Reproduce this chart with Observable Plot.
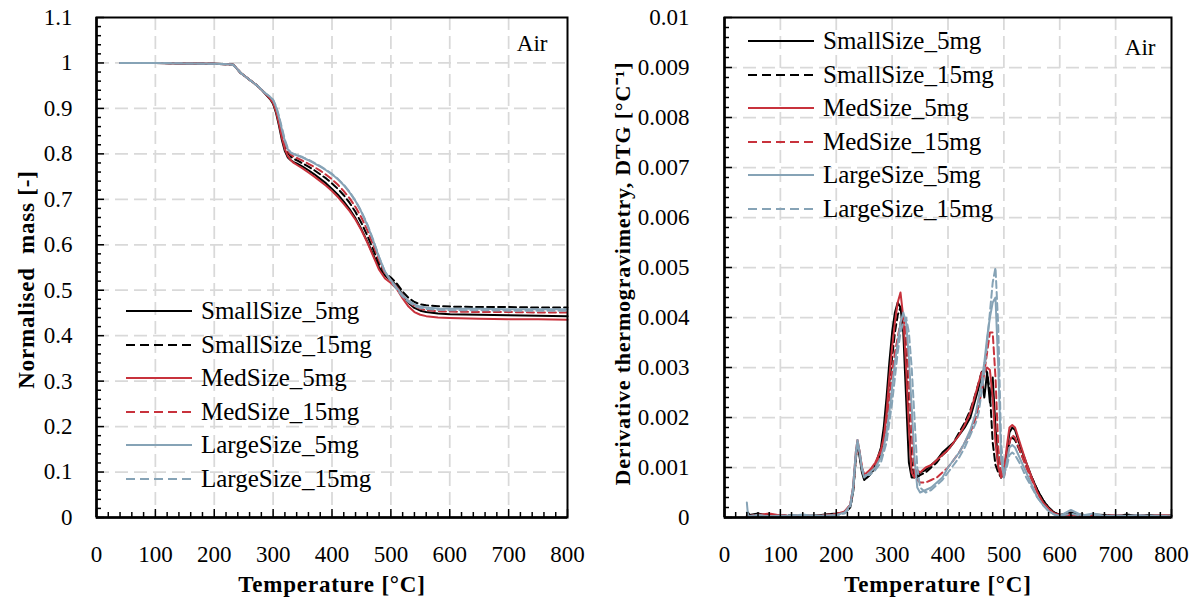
<!DOCTYPE html>
<html><head><meta charset="utf-8">
<script src="https://cdn.jsdelivr.net/npm/d3@7"></script>
<script src="https://cdn.jsdelivr.net/npm/@observablehq/plot@0.6"></script>
<style>
body{margin:0;background:#fff;}
#wrap{position:relative;width:1199px;height:601px;display:flex;background:#fff;}
.legend{position:absolute;font-family:"Liberation Serif",serif;font-size:25px;color:#000;}
.legend .row{display:flex;align-items:center;height:33.6px;white-space:nowrap;}
.legend svg{margin-right:9px;flex:none;}
svg g[font-weight="bold"] text{letter-spacing:0.8px;}
</style></head><body><div id="wrap"></div>
<script>
// ---------- series metadata ----------
const seriesNames = ["SmallSize_5mg","SmallSize_15mg","MedSize_5mg","MedSize_15mg","LargeSize_5mg","LargeSize_15mg"];
const seriesColors = ["#000000","#000000","#c8323c","#c8323c","#86a3b6","#86a3b6"];
const seriesDashed = [false,true,false,true,false,true];

// ---------- axis ticks ----------
const tempTicks = [0,100,200,300,400,500,600,700,800];
const tempTickLabels = ["0","100","200","300","400","500","600","700","800"];
const massTicks = [0,0.1,0.2,0.3,0.4,0.5,0.6,0.7,0.8,0.9,1,1.1];
const massTickLabels = ["0","0.1","0.2","0.3","0.4","0.5","0.6","0.7","0.8","0.9","1","1.1"];
const dtgTicks = [0,0.001,0.002,0.003,0.004,0.005,0.006,0.007,0.008,0.009,0.01];
const dtgTickLabels = ["0","0.001","0.002","0.003","0.004","0.005","0.006","0.007","0.008","0.009","0.01"];

// ---------- normalised mass (left) ----------
const massT = [40,100,150,200,225,232,238,245,255,265,275,285,295,300,305,310,315,320,325,330,335,340,350,360,370,380,390,400,410,420,430,440,450,460,470,480,490,500,510,520,530,540,550,560,580,600,650,700,750,800];
const massSmall5 = [1,1,0.999,0.998,0.997,0.996,0.988,0.978,0.968,0.958,0.948,0.935,0.92,0.91,0.89,0.862,0.83,0.806,0.792,0.786,0.782,0.779,0.772,0.764,0.755,0.745,0.735,0.723,0.71,0.695,0.678,0.658,0.634,0.607,0.578,0.55,0.532,0.522,0.51,0.49,0.472,0.461,0.455,0.452,0.449,0.447,0.446,0.445,0.444,0.443];
const massSmall15 = [1,1,0.999,0.998,0.997,0.996,0.988,0.978,0.968,0.958,0.948,0.935,0.922,0.914,0.897,0.872,0.843,0.818,0.802,0.794,0.789,0.786,0.779,0.772,0.764,0.755,0.746,0.735,0.723,0.709,0.692,0.672,0.648,0.62,0.59,0.558,0.538,0.528,0.515,0.497,0.483,0.474,0.469,0.467,0.465,0.464,0.463,0.463,0.462,0.462];
const massMed5 = [1,1,0.999,0.998,0.997,0.996,0.988,0.978,0.968,0.958,0.948,0.935,0.921,0.912,0.893,0.866,0.835,0.81,0.795,0.786,0.78,0.776,0.768,0.759,0.75,0.74,0.73,0.718,0.705,0.69,0.674,0.655,0.632,0.605,0.575,0.545,0.526,0.516,0.503,0.482,0.464,0.452,0.446,0.443,0.44,0.439,0.437,0.436,0.436,0.435];
const massMed15 = [1,1,0.999,0.998,0.997,0.996,0.988,0.978,0.968,0.958,0.948,0.935,0.923,0.915,0.899,0.875,0.847,0.822,0.806,0.798,0.794,0.791,0.785,0.778,0.771,0.763,0.754,0.744,0.732,0.718,0.702,0.683,0.66,0.632,0.6,0.565,0.537,0.522,0.507,0.489,0.474,0.465,0.459,0.456,0.454,0.453,0.452,0.452,0.451,0.451];
const massLarge5 = [1,1,0.999,0.998,0.997,0.996,0.988,0.978,0.968,0.958,0.948,0.935,0.925,0.918,0.903,0.88,0.853,0.828,0.81,0.802,0.799,0.797,0.792,0.786,0.779,0.772,0.764,0.755,0.744,0.731,0.715,0.696,0.672,0.643,0.609,0.572,0.541,0.522,0.505,0.489,0.477,0.469,0.464,0.462,0.46,0.459,0.459,0.458,0.458,0.458];
const massLarge15 = [1,1,0.999,0.998,0.997,0.996,0.988,0.978,0.968,0.958,0.948,0.935,0.926,0.919,0.905,0.883,0.857,0.831,0.812,0.803,0.8,0.798,0.793,0.787,0.78,0.773,0.765,0.756,0.745,0.732,0.716,0.697,0.673,0.645,0.611,0.573,0.54,0.52,0.502,0.486,0.474,0.466,0.461,0.459,0.457,0.456,0.456,0.455,0.455,0.455];

// ---------- DTG (right), values in units of 1e-4 per °C ----------
const DTG_UNIT = 1e-4;
const dtgT = [40,42,45,60,80,100,120,140,160,180,200,215,225,230,235,238,242,246,250,255,260,270,280,285,290,295,300,305,310,315,320,325,330,335,340,345,350,360,370,380,390,400,410,420,430,440,450,455,460,465,470,475,480,485,490,495,500,505,510,515,520,530,540,550,560,570,580,590,600,620,640,660,680,700,720,740,760,780,800];
const dtgSmall5 = [0,1,0.5,0.8,0.3, 0.5,0.2,0.4,0.3,0.6, 0.8,1.0,2,5,12, 15,12,9,7.5,8, 8.5,10.5,14,18,24, 31,37,41,43,42, 37,24,11,8,8, 8.5,9,9.5,10.5,11.5, 13,14,15,16.5,18, 20,24,26,28,24, 29,23,28,18,10, 8,9,13,17,18, 17.5,14,11,8,5.5, 3.5,2,1,0.5,1, 0.3,0.6,0.5,0.2,0.6, 0.3,0.5,0.3,0.4];
const dtgSmall15 = [0.3,0.6,0.2,0.4,0.6, 0.3,0.5,0.2,0.4,0.3, 0.6,1.0,2,5,11.5, 15,12.5,9.5,8,8, 8.5,10,13,16,21, 27,32,37,40.5,42, 40,32,20,11,8, 8,8.5,9,10,11, 12.5,13.5,15,17,19, 21.5,25,27,29,30, 29,25,15,10.5,9, 8,9,12,15,16, 15.5,13,10.5,8,5.5, 3.5,2,1,0.5,0.4, 0.6,0.3,0.5,0.4,0.3, 0.5,0.2,0.4,0.3];
const dtgMed5 = [0.3,0.5,0.2,0.5,0.8, 0.4,0.3,0.5,0.3,0.4, 0.6,1.2,2.5,6,13, 15.5,13,10,8.5,9, 9.5,11,13.5,16,21, 28,34,39,43,45, 40,30,18,9,8, 9.5,9,10,10.5,11.5, 12.5,13.5,15,16.5,18.5, 21,25,27,29,29, 30,29.5,24,15,10, 8,9,14,18,18.5, 18,14.5,11,8,5, 3,1.8,0.8,0.5,0.6, 0.3,0.5,0.3,0.5,0.2, 0.4,0.3,0.5,0.3];
const dtgMed15 = [0.2,0.4,0.3,0.6,0.4, 0.5,0.3,0.4,0.2,0.5, 0.7,1.2,2.5,5.5,12, 15,13,10,8.5,8.5, 9,10.5,13,15,19, 24,29,33,36,39, 40.5,37,28,17,9, 7.5,7,7,7.5,8, 9,10,11.5,13,15, 17,20,22.5,25,29, 33,37,37,28,14, 9,8,11,15,16.5, 16,13,10,7.5,5, 3,1.7,0.8,0.4,0.5, 0.3,0.4,0.2,0.5,0.3, 0.4,0.3,0.2,0.4];
const dtgLarge5 = [3,0.5,0.3,0.5,0.2, 0.4,0.3,0.6,0.3,0.4, 0.5,1,2.5,6,13, 15.5,13,9.5,8,8.5, 9,10,12,14,17, 21,26,31,35,39, 41,39,32,22,12, 6,5,5.5,6,7, 8,10,11.5,13,15, 17.5,21,24,27,31, 36,40,43,44,30, 12,8,11,14,14.5, 14,11.5,9,6.5,4, 2.5,1.3,0.6,0.3,1.5, 0.4,0.8,0.3,0.4,0.3, 0.5,0.3,0.4,0.2];
const dtgLarge15 = [1,0.4,0.2,0.4,0.3, 0.2,0.5,0.3,0.4,0.2, 0.4,0.8,2,5,12, 15,13,10,8.5,8.5, 8.5,9.5,11,13,15, 19,23,28,33,37, 39,40,37,30,20, 10,6,5,5.5,6.5, 7.5,9,10.5,12,14, 16.5,19,21,25,29, 35,41,47,50,38, 15,9,10,12.5,13, 12.5,10.5,8,6,4, 2.5,1.3,0.6,0.3,0.8, 0.3,0.5,0.2,0.4,0.3, 0.3,0.4,0.2,0.3];

const massSeries = [massSmall5,massSmall15,massMed5,massMed15,massLarge5,massLarge15];
const dtgSeries = [dtgSmall5,dtgSmall15,dtgMed5,dtgMed15,dtgLarge5,dtgLarge15];

const massTables = massSeries.map((vals,i) => massT.map((t,j) => ({series: seriesNames[i], T: t, v: vals[j]})));
const dtgTables = dtgSeries.map((vals,i) => dtgT.map((t,j) => ({series: seriesNames[i], T: t, v: vals[j] * DTG_UNIT})));

// ---------- layout ----------
const H = 601, MT = 17, MB = 84;
const FONT = "'Liberation Serif', 'Times New Roman', serif";

function panel(cfg) {
  const plotW = cfg.width - cfg.marginLeft - cfg.marginRight;
  const plotH = H - MT - MB;
  const xMinor = d3.range(0, 41).map(i => i * 20).filter(t => t % 100 !== 0);
  const yMinor = d3.range(0, cfg.yMinorCount + 1).map(i => i * cfg.yMinorStep).filter((d, i) => i % 5 !== 0);
  const fmt = (ticks, labels) => d => { const k = ticks.findIndex(t => Math.abs(t - d) < 1e-9); return k >= 0 ? labels[k] : ""; };
  const lines = cfg.tables.map((tab, i) => Plot.line(tab, {
    x: "T", y: "v", stroke: seriesColors[i], strokeWidth: 2,
    strokeDasharray: seriesDashed[i] ? "7,4" : null, curve: "linear"
  }));
  return Plot.plot({
    width: cfg.width, height: H,
    marginLeft: cfg.marginLeft, marginRight: cfg.marginRight, marginTop: MT, marginBottom: MB,
    x: {domain: [0, 800]},
    y: {domain: cfg.yDomain},
    style: {fontFamily: FONT, fontSize: "23px", color: "#000", background: "#fff", overflow: "visible"},
    marks: [
      Plot.gridX(tempTicks.slice(1, -1), {stroke: "#d9d9d9", strokeOpacity: 1, strokeWidth: 1.75, strokeDasharray: "13,6"}),
      Plot.gridY(cfg.yTicks.slice(1, -1), {stroke: "#d9d9d9", strokeOpacity: 1, strokeWidth: 1.75, strokeDasharray: "13,6"}),
      ...lines,
      Plot.tickX(xMinor, {x: d => d, insetTop: plotH - 5, stroke: "#000", strokeWidth: 1.5}),
      Plot.tickX(tempTicks, {x: d => d, insetTop: plotH - 8, stroke: "#000", strokeWidth: 1.5}),
      Plot.tickY(yMinor, {y: d => d, insetRight: plotW - 5, stroke: "#000", strokeWidth: 1.5}),
      Plot.tickY(cfg.yTicks, {y: d => d, insetRight: plotW - 8, stroke: "#000", strokeWidth: 1.5}),
      Plot.frame({stroke: "#000", strokeWidth: 2}),
      Plot.ruleX([0], {stroke: "#000", strokeWidth: 2.5}),
      Plot.ruleY([cfg.yDomain[0]], {stroke: "#000", strokeWidth: 2.5}),
      Plot.axisX({ticks: tempTicks, tickSize: 0, tickPadding: 28, tickFormat: fmt(tempTicks, tempTickLabels), fontSize: 23, label: null}),
      Plot.axisY({ticks: cfg.yTicks, tickSize: 0, tickPadding: cfg.yTickPadding, tickFormat: fmt(cfg.yTicks, cfg.yTickLabels), fontSize: 23, label: null}),
      Plot.text(["Temperature [°C]"], {frameAnchor: "bottom", textAnchor: "middle", lineAnchor: "middle", dy: 67, dx: cfg.xLabelDx, text: d => d, fontSize: 23, fontWeight: "bold"}),
      Plot.text([cfg.yLabel], {frameAnchor: "left", textAnchor: "middle", lineAnchor: "middle", rotate: -90, dx: cfg.yLabelDx, dy: cfg.yLabelDy, text: d => d, fontSize: cfg.yLabelSize, fontWeight: "bold"}),
      Plot.text(["Air"], {frameAnchor: "top-right", textAnchor: "end", lineAnchor: "middle", dx: cfg.airDx, dy: cfg.airDy, text: d => d, fontSize: 23})
    ]
  });
}

const left = panel({
  width: 600, marginLeft: 96, marginRight: 33, yDomain: [0, 1.1],
  yTicks: massTicks, yTickLabels: massTickLabels, yMinorStep: 0.02, yMinorCount: 55, yTickPadding: 24,
  tables: massTables, yLabel: "Normalised  mass [-]", yLabelSize: 23, yLabelDx: -70, yLabelDy: 12, xLabelDx: 0, airDx: -20, airDy: 26
});
const right = panel({
  width: 599, marginLeft: 124, marginRight: 28, yDomain: [0, 0.01],
  yTicks: dtgTicks, yTickLabels: dtgTickLabels, yMinorStep: 0.0002, yMinorCount: 50, yTickPadding: 35,
  tables: dtgTables, yLabel: "Derivative thermogravimetry, DTG [°C⁻¹]", yLabelSize: 22, yLabelDx: -102, yLabelDy: 6, xLabelDx: -10, airDx: -16, airDy: 30
});
const wrap = document.getElementById("wrap");
wrap.appendChild(left);
wrap.appendChild(right);

// ---------- legends ----------
function legend(leftPx, topPx) {
  const div = document.createElement("div");
  div.className = "legend";
  div.style.left = leftPx + "px";
  div.style.top = topPx + "px";
  seriesNames.forEach((name, i) => {
    const row = document.createElement("div");
    row.className = "row";
    const ns = "http://www.w3.org/2000/svg";
    const s = document.createElementNS(ns, "svg");
    s.setAttribute("width", 66); s.setAttribute("height", 4);
    const ln = document.createElementNS(ns, "line");
    ln.setAttribute("x1", 0); ln.setAttribute("x2", 66); ln.setAttribute("y1", 2); ln.setAttribute("y2", 2);
    ln.setAttribute("stroke", seriesColors[i]); ln.setAttribute("stroke-width", 2);
    if (seriesDashed[i]) ln.setAttribute("stroke-dasharray", "9,5");
    s.appendChild(ln);
    const sp = document.createElement("span");
    sp.textContent = name;
    row.appendChild(s); row.appendChild(sp);
    div.appendChild(row);
  });
  wrap.appendChild(div);
}
legend(126, 311 - 16.8);
legend(748, 41 - 16.8);
</script></body></html>
